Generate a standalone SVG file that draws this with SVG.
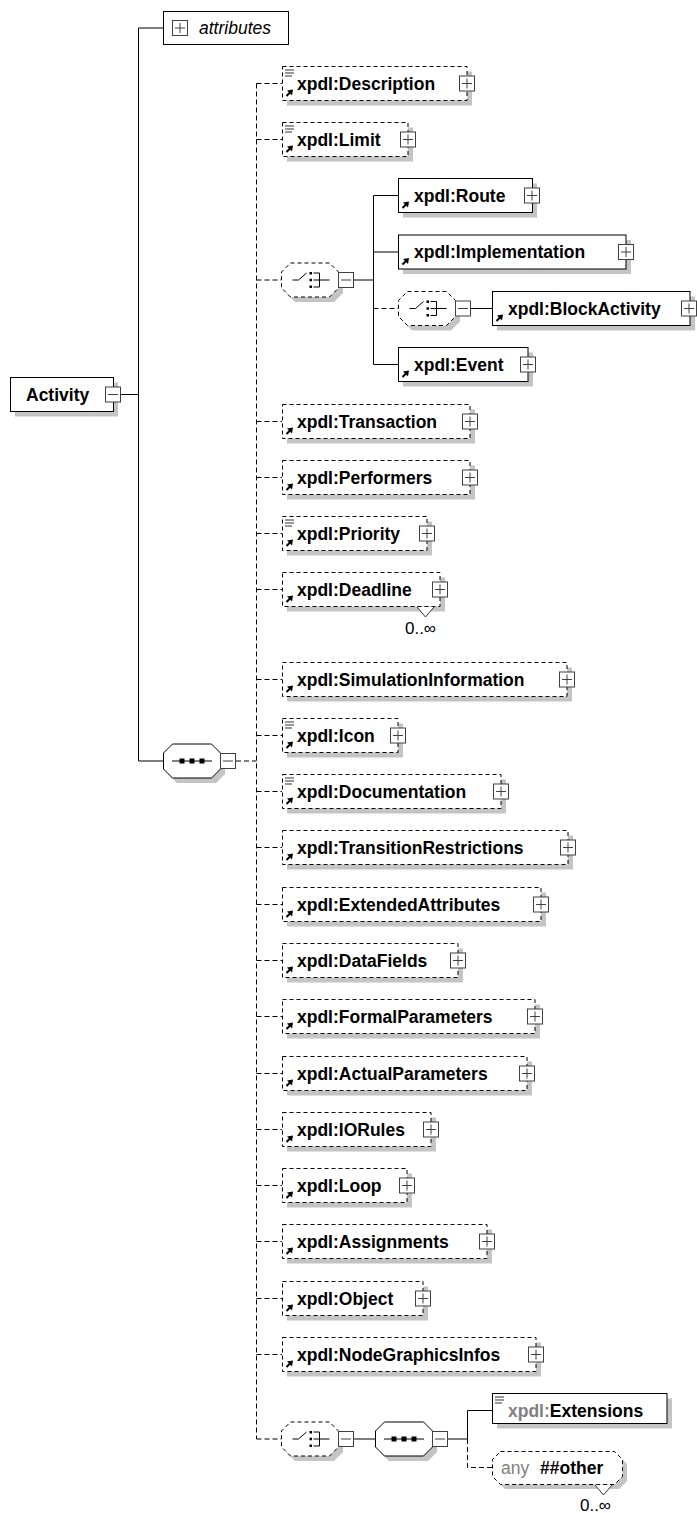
<svg xmlns="http://www.w3.org/2000/svg" xmlns:xlink="http://www.w3.org/1999/xlink" width="697" height="1513" viewBox="0 0 697 1513">
<style>
.box{fill:#fff;stroke:#000;stroke-width:1}
.dbox{fill:#fff;stroke:#000;stroke-width:1;stroke-dasharray:4,3}
.sh{fill:#c4c4c4}
.lbl{font-family:"Liberation Sans",Arial,sans-serif;font-size:17.5px;font-weight:bold;fill:#000}
.it{font-family:"Liberation Sans",Arial,sans-serif;font-size:17.5px;font-style:italic;fill:#000}
.occ{font-family:"Liberation Sans",Arial,sans-serif;font-size:17px;fill:#000}
.gray{fill:#808080}
.conn{stroke:#000;fill:none;stroke-width:1}
.dconn{stroke:#000;fill:none;stroke-width:1;stroke-dasharray:5,3}
.notch{fill:#fff;stroke:#333;stroke-width:1}
</style>
<defs>
<g id="plus"><rect x="-7.5" y="-7.5" width="15" height="15" fill="#fff" stroke="#404040"/><path d="M-5 0H5M0 -5V5" stroke="#404040"/></g>
<g id="minus"><rect x="-7.5" y="-7.5" width="15" height="15" fill="#fff" stroke="#404040"/><path d="M-5 0H5" stroke="#404040"/></g>
<g id="ref"><path d="M4.5 -4.5L9 -9" stroke="#000" stroke-width="2"/><path d="M11 -11L5 -10L10 -5Z" fill="#000"/></g>
<g id="doc"><path d="M3 3.5H12M3 6.5H12M3 9.5H10" stroke="#333"/></g>
<g id="chicon" stroke="#000" fill="none"><path d="M-17 0H-11L-3 -7"/><path d="M4 -7H10V7H4M4 0H20"/><rect x="0" y="-8" width="2.5" height="2.5" fill="#000" stroke="none"/><rect x="0" y="-1.25" width="2.5" height="2.5" fill="#000" stroke="none"/><rect x="0" y="5.5" width="2.5" height="2.5" fill="#000" stroke="none"/></g>
<g id="seqicon"><path d="M-20 0H20" stroke="#000"/><rect x="-12.5" y="-2.5" width="5" height="5" fill="#000"/><rect x="-2.5" y="-2.5" width="5" height="5" fill="#000"/><rect x="7.5" y="-2.5" width="5" height="5" fill="#000"/></g>
<path id="oct" d="M9 0H48L57 9V25L48 34H9L0 25V9Z"/>
</defs>

<g id="connectors">
<path class="conn" d="M138.5 28V761M121 394.5H138.5M138.5 28H163M138.5 761H163"/>
<path class="dconn" d="M256.5 83.5V1439M236 761H256.5"/>
<path class="dconn" d="M256.5 83.5H282M256.5 139.5H282M256.5 280H281M256.5 421.5H282M256.5 477.5H282M256.5 533.5H282M256.5 589.5H282M256.5 679.5H282M256.5 735.5H282M256.5 791.5H282M256.5 847.5H282M256.5 904.5H282M256.5 960.5H282M256.5 1016.5H282M256.5 1073.5H282M256.5 1129.5H282M256.5 1185.5H282M256.5 1241.5H282M256.5 1298.5H282M256.5 1354.5H282M256.5 1439H281"/>
<path class="conn" d="M354 280H373.5M373.5 195.5V364.5M373.5 195.5H398M373.5 252H398M373.5 364.5H398"/>
<path class="dconn" d="M373.5 308.5H398"/>
<path class="conn" d="M471 308.5H492"/>
<path class="conn" d="M354 1439H375M448 1439H467.5M467.5 1410.5V1439M467.5 1410.5H492"/>
<path class="dconn" d="M467.5 1439V1467.5H492"/>
</g>

<g id="activity">
<rect class="sh" x="15" y="382.5" width="103" height="34"/>
<rect class="box" x="10.5" y="377.5" width="103" height="34"/>
<text class="lbl" x="26" y="400.5">Activity</text>
<use href="#minus" x="113" y="394.5"/>
</g>

<g id="attributes">
<rect class="box" x="163.5" y="11.5" width="125" height="33"/>
<use href="#plus" x="180" y="28"/>
<text class="it" x="199" y="34">attributes</text>
</g>

<g id="seq-main">
<use href="#oct" x="168" y="749" class="sh"/>
<use href="#oct" x="163.5" y="744" fill="#fff" stroke="#000"/>
<use href="#seqicon" x="192" y="761"/>
<use href="#minus" x="228" y="761"/>
</g>

<g id="n-description">
<rect class="sh" x="287" y="71.5" width="185" height="34"/>
<rect class="dbox" x="282.5" y="66.5" width="184.5" height="34"/>
<use href="#doc" x="282" y="66.5"/><use href="#ref" x="282" y="100.5"/>
<text class="lbl" x="297" y="89.5">xpdl:Description</text>
<use href="#plus" x="467" y="83.5"/>
</g>

<g id="n-limit">
<rect class="sh" x="287" y="127.5" width="126" height="34"/>
<rect class="dbox" x="282.5" y="122.5" width="125.5" height="34"/>
<use href="#doc" x="282" y="122.5"/><use href="#ref" x="282" y="156.5"/>
<text class="lbl" x="297" y="145.5">xpdl:Limit</text>
<use href="#plus" x="408" y="139.5"/>
</g>

<g id="choice1">
<use href="#oct" x="286" y="268" class="sh"/>
<use href="#oct" x="281.5" y="263" fill="#fff" stroke="#000" stroke-dasharray="4,3"/>
<use href="#chicon" x="309.5" y="280"/>
<use href="#minus" x="346" y="280"/>
</g>

<g id="n-route">
<rect class="sh" x="403" y="183.5" width="134" height="34"/>
<rect class="box" x="398.5" y="178.5" width="134" height="34"/>
<use href="#ref" x="398" y="212.5"/>
<text class="lbl" x="414" y="201.5">xpdl:Route</text>
<use href="#plus" x="532" y="195.5"/>
</g>

<g id="n-implementation">
<rect class="sh" x="403" y="240" width="228" height="34"/>
<rect class="box" x="398.5" y="235" width="227.5" height="34"/>
<use href="#ref" x="398" y="269"/>
<text class="lbl" x="414" y="258">xpdl:Implementation</text>
<use href="#plus" x="626" y="252"/>
</g>

<g id="choice2">
<use href="#oct" x="403" y="296.5" class="sh"/>
<use href="#oct" x="398.5" y="291.5" fill="#fff" stroke="#000" stroke-dasharray="4,3"/>
<use href="#chicon" x="426.5" y="308.5"/>
<use href="#minus" x="463" y="308.5"/>
</g>

<g id="n-blockactivity">
<rect class="sh" x="497" y="296.5" width="198" height="34"/>
<rect class="box" x="492.5" y="291.5" width="197.5" height="34"/>
<use href="#ref" x="492" y="325.5"/>
<text class="lbl" x="508" y="314.5">xpdl:BlockActivity</text>
<use href="#plus" x="689" y="308.5"/>
</g>

<g id="n-event">
<rect class="sh" x="403" y="352.5" width="130" height="34"/>
<rect class="box" x="398.5" y="347.5" width="129.5" height="34"/>
<use href="#ref" x="398" y="381.5"/>
<text class="lbl" x="414" y="370.5">xpdl:Event</text>
<use href="#plus" x="528" y="364.5"/>
</g>

<g id="n-transaction">
<rect class="sh" x="287" y="409.5" width="188" height="34"/>
<rect class="dbox" x="282.5" y="404.5" width="187.5" height="34"/>
<use href="#ref" x="282" y="438.5"/>
<text class="lbl" x="297" y="427.5">xpdl:Transaction</text>
<use href="#plus" x="470" y="421.5"/>
</g>

<g id="n-performers">
<rect class="sh" x="287" y="465.5" width="188" height="34"/>
<rect class="dbox" x="282.5" y="460.5" width="187.5" height="34"/>
<use href="#ref" x="282" y="494.5"/>
<text class="lbl" x="297" y="483.5">xpdl:Performers</text>
<use href="#plus" x="470" y="477.5"/>
</g>

<g id="n-priority">
<rect class="sh" x="287" y="521.5" width="145" height="34"/>
<rect class="dbox" x="282.5" y="516.5" width="144.5" height="34"/>
<use href="#doc" x="282" y="516.5"/><use href="#ref" x="282" y="550.5"/>
<text class="lbl" x="297" y="539.5">xpdl:Priority</text>
<use href="#plus" x="427" y="533.5"/>
</g>

<g id="n-deadline">
<rect class="sh" x="287" y="577.5" width="158" height="34"/>
<rect class="dbox" x="282.5" y="572.5" width="157.5" height="34"/>
<use href="#ref" x="282" y="606.5"/>
<text class="lbl" x="297" y="595.5">xpdl:Deadline</text>
<use href="#plus" x="440" y="589.5"/>
<path class="notch" d="M417 607L425.5 617L434 607"/>
<text class="occ" x="436" y="634" text-anchor="end">0..∞</text>
</g>

<g id="n-simulationinformation">
<rect class="sh" x="287" y="667.5" width="285" height="34"/>
<rect class="dbox" x="282.5" y="662.5" width="284.5" height="34"/>
<use href="#ref" x="282" y="696.5"/>
<text class="lbl" x="297" y="685.5">xpdl:SimulationInformation</text>
<use href="#plus" x="567" y="679.5"/>
</g>

<g id="n-icon">
<rect class="sh" x="287" y="723.5" width="116" height="34"/>
<rect class="dbox" x="282.5" y="718.5" width="115.5" height="34"/>
<use href="#doc" x="282" y="718.5"/><use href="#ref" x="282" y="752.5"/>
<text class="lbl" x="297" y="741.5">xpdl:Icon</text>
<use href="#plus" x="398" y="735.5"/>
</g>

<g id="n-documentation">
<rect class="sh" x="287" y="779.5" width="219" height="34"/>
<rect class="dbox" x="282.5" y="774.5" width="218.5" height="34"/>
<use href="#doc" x="282" y="774.5"/><use href="#ref" x="282" y="808.5"/>
<text class="lbl" x="297" y="797.5">xpdl:Documentation</text>
<use href="#plus" x="501" y="791.5"/>
</g>

<g id="n-transitionrestrictions">
<rect class="sh" x="287" y="835.5" width="286" height="34"/>
<rect class="dbox" x="282.5" y="830.5" width="285.5" height="34"/>
<use href="#ref" x="282" y="864.5"/>
<text class="lbl" x="297" y="853.5">xpdl:TransitionRestrictions</text>
<use href="#plus" x="568" y="847.5"/>
</g>

<g id="n-extendedattributes">
<rect class="sh" x="287" y="892.5" width="259" height="34"/>
<rect class="dbox" x="282.5" y="887.5" width="258.5" height="34"/>
<use href="#ref" x="282" y="921.5"/>
<text class="lbl" x="297" y="910.5">xpdl:ExtendedAttributes</text>
<use href="#plus" x="541" y="904.5"/>
</g>

<g id="n-datafields">
<rect class="sh" x="287" y="948.5" width="176" height="34"/>
<rect class="dbox" x="282.5" y="943.5" width="175.5" height="34"/>
<use href="#ref" x="282" y="977.5"/>
<text class="lbl" x="297" y="966.5">xpdl:DataFields</text>
<use href="#plus" x="458" y="960.5"/>
</g>

<g id="n-formalparameters">
<rect class="sh" x="287" y="1004.5" width="253" height="34"/>
<rect class="dbox" x="282.5" y="999.5" width="252.5" height="34"/>
<use href="#ref" x="282" y="1033.5"/>
<text class="lbl" x="297" y="1022.5">xpdl:FormalParameters</text>
<use href="#plus" x="535" y="1016.5"/>
</g>

<g id="n-actualparameters">
<rect class="sh" x="287" y="1061.5" width="245" height="34"/>
<rect class="dbox" x="282.5" y="1056.5" width="244.5" height="34"/>
<use href="#ref" x="282" y="1090.5"/>
<text class="lbl" x="297" y="1079.5">xpdl:ActualParameters</text>
<use href="#plus" x="527" y="1073.5"/>
</g>

<g id="n-iorules">
<rect class="sh" x="287" y="1117.5" width="149" height="34"/>
<rect class="dbox" x="282.5" y="1112.5" width="148.5" height="34"/>
<use href="#ref" x="282" y="1146.5"/>
<text class="lbl" x="297" y="1135.5">xpdl:IORules</text>
<use href="#plus" x="431" y="1129.5"/>
</g>

<g id="n-loop">
<rect class="sh" x="287" y="1173.5" width="125" height="34"/>
<rect class="dbox" x="282.5" y="1168.5" width="124.5" height="34"/>
<use href="#ref" x="282" y="1202.5"/>
<text class="lbl" x="297" y="1191.5">xpdl:Loop</text>
<use href="#plus" x="407" y="1185.5"/>
</g>

<g id="n-assignments">
<rect class="sh" x="287" y="1229.5" width="205" height="34"/>
<rect class="dbox" x="282.5" y="1224.5" width="204.5" height="34"/>
<use href="#ref" x="282" y="1258.5"/>
<text class="lbl" x="297" y="1247.5">xpdl:Assignments</text>
<use href="#plus" x="487" y="1241.5"/>
</g>

<g id="n-object">
<rect class="sh" x="287" y="1286.5" width="141" height="34"/>
<rect class="dbox" x="282.5" y="1281.5" width="140.5" height="34"/>
<use href="#ref" x="282" y="1315.5"/>
<text class="lbl" x="297" y="1304.5">xpdl:Object</text>
<use href="#plus" x="423" y="1298.5"/>
</g>

<g id="n-nodegraphicsinfos">
<rect class="sh" x="287" y="1342.5" width="254" height="34"/>
<rect class="dbox" x="282.5" y="1337.5" width="253.5" height="34"/>
<use href="#ref" x="282" y="1371.5"/>
<text class="lbl" x="297" y="1360.5">xpdl:NodeGraphicsInfos</text>
<use href="#plus" x="536" y="1354.5"/>
</g>

<g id="choice3">
<use href="#oct" x="286" y="1427" class="sh"/>
<use href="#oct" x="281.5" y="1422" fill="#fff" stroke="#000" stroke-dasharray="4,3"/>
<use href="#chicon" x="309.5" y="1439"/>
<use href="#minus" x="346" y="1439"/>
</g>

<g id="seq2">
<use href="#oct" x="380" y="1427" class="sh"/>
<use href="#oct" x="375.5" y="1422" fill="#fff" stroke="#000"/>
<use href="#seqicon" x="404" y="1439"/>
<use href="#minus" x="440" y="1439"/>
</g>

<g id="n-extensions">
<rect class="sh" x="497" y="1398.5" width="175" height="30"/>
<rect class="box" x="492.5" y="1393.5" width="174.5" height="30"/>
<use href="#doc" x="492" y="1393.5"/>
<text class="lbl" x="508" y="1416.5"><tspan class="gray">xpdl:</tspan>Extensions</text>
</g>

<g id="n-any">
<path class="sh" d="M505 1456H619L627 1464V1481L619 1489H505L497 1481V1464Z"/>
<path class="dbox" d="M500.5 1451.5H614.5L622.5 1459.5V1476.5L614.5 1484.5H500.5L492.5 1476.5V1459.5Z"/>
<text class="occ" x="501" y="1473.5" style="font-size:17.5px;fill:#808080">any</text>
<text class="lbl" x="540" y="1473.5">##other</text>
<path class="notch" d="M595 1485L603.5 1495L612 1485"/>
<text class="occ" x="611" y="1511" text-anchor="end">0..∞</text>
</g>
</svg>
